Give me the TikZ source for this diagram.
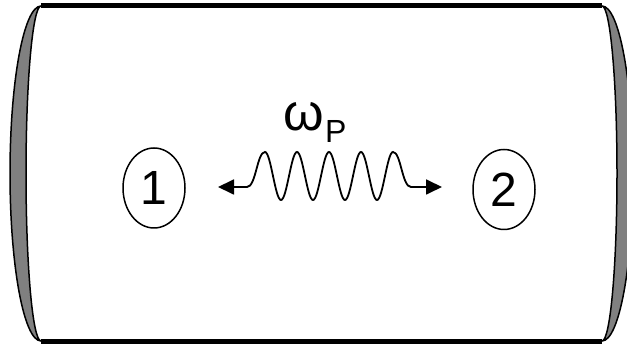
\documentclass[tikz,border=0pt]{standalone}
\usepackage{fontspec}
\setmainfont{Liberation Sans}
\usetikzlibrary{arrows.meta,shapes.geometric}

\begin{document}
\begin{tikzpicture}[x=1pt,y=1pt,
                    >={Triangle[length=16pt,width=15pt]},
                    mirror/.style={draw=black,line width=1.5pt,fill=gray},
                    beam/.style={line width=5pt},
                    atom/.style={ellipse,draw,line width=1.5pt,minimum width=62pt,
                                 minimum height=80pt,inner sep=0pt,
                                 font=\fontsize{48}{50}\selectfont},
                    wave/.style={<->,line width=1.8pt}]
  \clip (0,0) rectangle (627,345);

  % cavity
  \draw[beam] (41,339.5) -- (602,339.5);
  \draw[beam] (41,3.5) -- (602,3.5);
  \draw[mirror] (41,339) arc[start angle=90,end angle=270,x radius=31,y radius=167.5]
                         arc[start angle=270,end angle=90,x radius=15,y radius=167.5] -- cycle;
  \draw[mirror] (602,339) arc[start angle=90,end angle=-90,x radius=31,y radius=167.5]
                          arc[start angle=-90,end angle=90,x radius=15,y radius=167.5] -- cycle;

  % atoms
  \node[atom] (n1) at (154,157) {1};
  \node[atom] (n2) at (504,155.5) {2};

  % photon
  \coordinate (wl) at (218,158);
  \coordinate (wr) at (442,158);
  \draw[wave] (wl) -- ++(29,0) .. controls ++(9,0) and (257,193) .. (265,193)
     \foreach \i in {1,...,4} { cos ++(8,-24) sin ++(8,-24) cos ++(8,24) sin ++(8,24) }
     .. controls ++(8,0) and (402,158) .. (411,158) -- (wr);

  \node[anchor=base west,inner sep=0pt,font=\fontsize{52}{54}\selectfont] (om) at (283,214) {ω};
  \node[anchor=base west,inner sep=0pt,font=\fontsize{32}{34}\selectfont,
        xshift=1pt,yshift=-12pt] (p) at (om.base east) {P};
\end{tikzpicture}
\end{document}
